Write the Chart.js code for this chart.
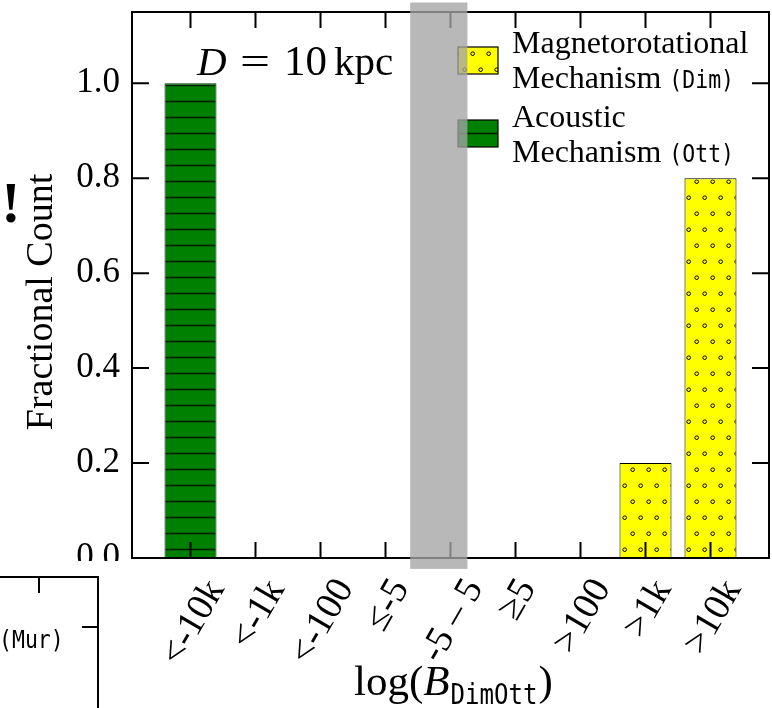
<!DOCTYPE html>
<html>
<head>
<meta charset="utf-8">
<script src="https://cdn.jsdelivr.net/npm/chart.js@4.4.1/dist/chart.umd.min.js"></script>
<style>
    html, body { margin: 0; padding: 0; background: #fff; }
</style>
</head>
<body>
<canvas id="histChart" width="772" height="708"></canvas>
<script>
// bins of log(B_DimOtt) and fractional counts per mechanism
var binLabels = ['<-10k', '<-1k', '<-100', '\u2264-5', '-5 \u2013 5', '\u22655', '>100', '>1k', '>10k'];
var dimValues = [0, 0, 0, 0, 0, 0, 0, 0.2, 0.8];
var ottValues = [1.0, 0, 0, 0, 0, 0, 0, 0, 0];
var dimLegend = ['Magnetorotational', 'Mechanism ', '(Dim)'];
var ottLegend = ['Acoustic', 'Mechanism ', '(Ott)'];
var yTicks = [0.0, 0.2, 0.4, 0.6, 0.8, 1.0];
var shadedBins = [3.38, 4.26];
var shadedY = [-0.023, 1.17];

var serif = '"Liberation Serif", "Times New Roman", serif';
var mono = '"DejaVu Sans Mono", monospace';

var canvas = document.getElementById('histChart');
var ctx = canvas.getContext('2d');

// hatch patterns (matplotlib 'o' and '-')
function dotPattern() {
    var c = document.createElement('canvas');
    c.width = 16; c.height = 32;
    var g = c.getContext('2d');
    g.fillStyle = '#ffff00';
    g.fillRect(0, 0, 16, 32);
    g.strokeStyle = '#000';
    g.lineWidth = 1;
    [[8.7, 21.7], [0.7, 5.7], [16.7, 5.7]].forEach(function (p) {
        g.beginPath();
        g.arc(p[0], p[1], 1.8, 0, Math.PI * 2);
        g.stroke();
    });
    return ctx.createPattern(c, 'repeat');
}
function linePattern() {
    var c = document.createElement('canvas');
    c.width = 16; c.height = 16;
    var g = c.getContext('2d');
    g.fillStyle = '#008000';
    g.fillRect(0, 0, 16, 16);
    g.strokeStyle = 'rgba(0,25,0,0.95)';
    g.lineWidth = 1.6;
    g.beginPath();
    g.moveTo(0, 5.5); g.lineTo(16, 5.5);
    g.stroke();
    return ctx.createPattern(c, 'repeat');
}
var dimFill = dotPattern();
var ottFill = linePattern();

function toPoints(arr) {
    return arr.map(function (v, i) { return { x: i, y: v > 0 ? v : null }; });
}

// typewriter text is narrower than DejaVu Sans Mono, squeeze it a bit
function monoText(c, txt, x, y, size) {
    c.save();
    c.font = size + 'px ' + mono;
    c.translate(x, y);
    c.scale(0.86, 1);
    c.fillText(txt, 0, 0);
    var w = c.measureText(txt).width * 0.86;
    c.restore();
    return w;
}

var decor = {
    id: 'decor',
    afterDraw: function (chart) {
        var c = chart.ctx, a = chart.chartArea, xs = chart.scales.x, ys = chart.scales.y;
        c.save();

        // neighbouring panel hides the lower part of the left edge
        c.fillStyle = '#fff';
        c.fillRect(0, 561, 140, 147);
        c.strokeStyle = '#000';
        c.lineWidth = 2;
        c.beginPath();
        c.moveTo(0, 577); c.lineTo(98, 577); c.lineTo(98, 708);
        c.moveTo(39, 577); c.lineTo(39, 593);
        c.moveTo(98, 627); c.lineTo(82, 627);
        c.stroke();
        c.fillStyle = '#000';
        c.textAlign = 'left';
        c.textBaseline = 'alphabetic';
        monoText(c, '(Mur)', -1, 648, 25);

        // frame and inward ticks
        c.strokeRect(a.left, a.top, a.right - a.left, a.bottom - a.top);
        c.beginPath();
        xs.ticks.forEach(function (t) {
            var px = xs.getPixelForValue(t.value);
            c.moveTo(px, a.bottom); c.lineTo(px, a.bottom - 16);
            c.moveTo(px, a.top); c.lineTo(px, a.top + 16);
        });
        ys.ticks.forEach(function (t) {
            var py = ys.getPixelForValue(t.value);
            c.moveTo(a.left, py); c.lineTo(a.left + 17, py);
            c.moveTo(a.right, py); c.lineTo(a.right - 17, py);
        });
        c.stroke();

        // legend
        var lx = a.right - 311, tx = a.right - 257;
        [[dimFill, dimLegend, 47, 53], [ottFill, ottLegend, 120, 127]].forEach(function (e) {
            c.fillStyle = e[0];
            c.fillRect(lx, e[2], 40, 27);
            c.lineWidth = 1.2;
            c.strokeStyle = '#000';
            c.strokeRect(lx, e[2], 40, 27);
            c.fillStyle = '#000';
            c.font = '32px ' + serif;
            c.fillText(e[1][0], tx, e[3]);
            c.fillText(e[1][1], tx, e[3] + 35);
            var w = c.measureText(e[1][1]).width;
            monoText(c, e[1][2], tx + w, e[3] + 35, 25);
        });

        // D = 10 kpc
        var dx = a.left + 65, dy = 75;
        c.font = 'italic 41px ' + serif;
        c.fillText('D', dx, dy);
        c.font = '41px ' + serif;
        c.save();
        c.translate(dx + 43, dy);
        c.scale(1.3, 1);
        c.fillText('=', 0, 0);
        c.restore();
        c.font = '43px ' + serif;
        c.fillText('10', dx + 87, dy);
        c.font = '41px ' + serif;
        c.fillText('kpc', dx + 137, dy);

        // x tick labels, rotated 60 deg, box centred under tick
        c.font = '38px ' + serif;
        var ang = Math.PI / 3;
        xs.ticks.forEach(function (t) {
            var lab = binLabels[t.value];
            var m = c.measureText(lab);
            var w = m.width;
            var asc = m.actualBoundingBoxAscent, desc = m.actualBoundingBoxDescent;
            var h = asc + desc;
            var H = w * Math.sin(ang) + h * Math.cos(ang);
            var cx = xs.getPixelForValue(t.value), cy = 575 + H / 2;
            c.save();
            c.translate(cx, cy);
            c.rotate(-ang);
            c.textAlign = 'center';
            c.fillText(lab, 0, (asc - desc) / 2);
            c.restore();
        });

        // x title: log(B_DimOtt)
        c.font = '43px ' + serif;
        var wLog = c.measureText('log(').width;
        var wPar = c.measureText(')').width;
        c.font = 'italic 43px ' + serif;
        var wB = c.measureText('B').width;
        c.font = '28px ' + mono;
        var wSub = c.measureText('DimOtt').width * 0.86;
        var total = wLog + wB + wSub + wPar + 2;
        var px = (a.left + a.right) / 2 - total / 2 + 3;
        c.font = '43px ' + serif;
        c.fillText('log(', px, 695);
        px += wLog;
        c.font = 'italic 43px ' + serif;
        c.fillText('B', px, 695);
        px += wB + 1;
        monoText(c, 'DimOtt', px, 704, 28);
        px += wSub + 1;
        c.font = '43px ' + serif;
        c.fillText(')', px, 695);

        // y title
        c.save();
        c.translate(52, 302);
        c.rotate(-Math.PI / 2);
        c.textAlign = 'center';
        c.font = '38px ' + serif;
        c.fillText('Fractional Count', 0, 0);
        c.restore();
        c.textAlign = 'center';
        c.font = 'bold 58px ' + serif;
        c.fillText('!', 11, 222);

        // shaded bin, drawn over everything
        c.fillStyle = 'rgba(164,164,164,0.78)';
        var x0 = xs.getPixelForValue(shadedBins[0]), x1 = xs.getPixelForValue(shadedBins[1]);
        var y0 = ys.getPixelForValue(shadedY[1]), y1 = ys.getPixelForValue(shadedY[0]);
        c.fillRect(x0, y0, x1 - x0, y1 - y0);
        c.restore();
    }
};

var histChart = new Chart(ctx, {
    type: 'bar',
    data: {
        datasets: [{
            label: dimLegend.join(''),
            data: toPoints(dimValues),
            backgroundColor: dimFill,
            borderColor: '#000',
            borderWidth: 1,
            borderSkipped: false
        }, {
            label: ottLegend.join(''),
            data: toPoints(ottValues),
            backgroundColor: ottFill,
            borderColor: '#002a00',
            borderWidth: 1,
            borderSkipped: false
        }]
    },
    options: {
        responsive: false,
        animation: false,
        devicePixelRatio: 1,
        grouped: false,
        barPercentage: 0.8,
        categoryPercentage: 1,
        layout: { padding: { top: 12, right: 3, left: 0, bottom: 0 } },
        plugins: { legend: { display: false }, tooltip: { enabled: false } },
        scales: {
            x: {
                type: 'linear',
                min: -0.9,
                max: 8.9,
                offset: false,
                grid: { display: false, drawTicks: false },
                border: { display: false },
                ticks: { display: false },
                afterBuildTicks: function (s) {
                    s.ticks = binLabels.map(function (l, i) { return { value: i }; });
                },
                afterFit: function (s) { s.height = 150; s.paddingLeft = 0; s.paddingRight = 0; }
            },
            y: {
                min: 0,
                max: 1.15,
                grid: { display: false, drawTicks: false },
                border: { display: false },
                ticks: {
                    padding: 12,
                    color: '#000',
                    font: { family: serif, size: 35 },
                    callback: function (v) { return v.toFixed(1); }
                },
                afterBuildTicks: function (s) {
                    s.ticks = yTicks.map(function (v) { return { value: v }; });
                },
                afterFit: function (s) { s.width = 132; s.paddingTop = 0; s.paddingBottom = 0; }
            }
        }
    },
    plugins: [decor]
});
</script>
</body>
</html>
